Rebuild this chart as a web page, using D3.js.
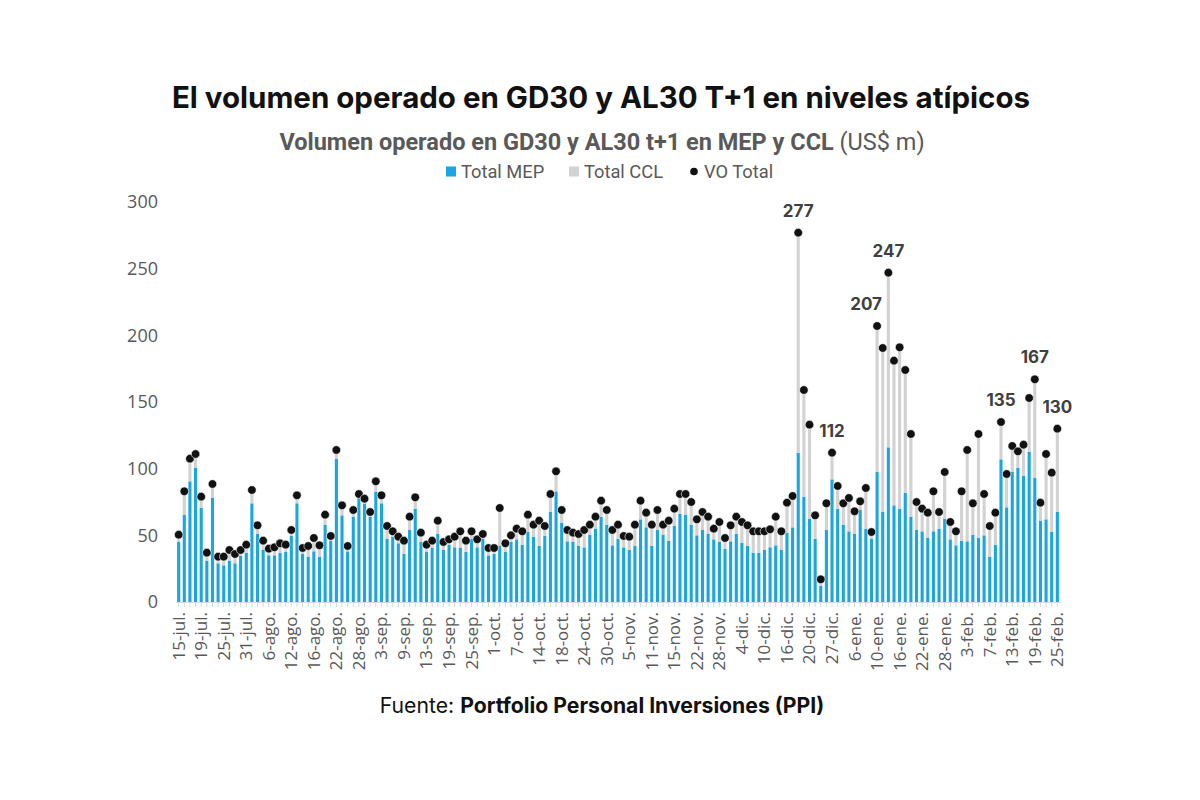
<!DOCTYPE html>
<html>
<head>
<meta charset="utf-8">
<script src="https://cdn.jsdelivr.net/npm/d3@7"></script>
<style>
  body { margin: 0; background: #fff; }
  svg { display: block; }
</style>
</head>
<body>
<svg id="chart" width="1200" height="800"></svg>
<script>
// every 4th business day gets a tick label
const tickLabels = ['15-jul.', '19-jul.', '25-jul.', '31-jul.', '6-ago.', '12-ago.', '16-ago.', '22-ago.', '28-ago.', '3-sep.',
  '9-sep.', '13-sep.', '19-sep.', '25-sep.', '1-oct.', '7-oct.', '14-oct.', '18-oct.', '24-oct.', '30-oct.',
  '5-nov.', '11-nov.', '15-nov.', '22-nov.', '28-nov.', '4-dic.', '10-dic.', '16-dic.', '20-dic.', '27-dic.',
  '6-ene.', '10-ene.', '16-ene.', '22-ene.', '28-ene.', '3-feb.', '7-feb.', '13-feb.', '19-feb.', '25-feb.'];

// Total MEP (US$ m)
const mep = [45, 65.5, 90.5, 100.5, 70.5, 31, 78, 29, 27.5, 31, 29, 34.5, 37, 74, 51, 39, 35, 35, 37, 37.5,
  49.5, 74, 36, 34, 38, 34, 58, 46, 107.5, 65, 38, 64, 78, 74, 64, 82.5, 74, 47.5, 49, 44,
  36, 54, 70, 45, 37.5, 40.5, 51, 39, 43, 41, 40.5, 37.5, 47.5, 41, 47.5, 35, 36, 42, 37.5, 45,
  47, 43, 52.5, 49, 42, 49.5, 67.5, 83, 59.5, 45.5, 45, 42, 41, 50.5, 55, 64, 58, 42.5, 47.5, 41,
  39, 42, 62, 56, 42, 54, 50.5, 46, 57, 66, 65.5, 58, 50, 54, 51, 47, 45, 40, 45.5, 51,
  44.5, 42, 37, 37, 39, 41, 42.5, 39, 52, 56, 112, 79, 62.5, 47.5, 12, 54, 92, 70, 58, 53,
  51, 69, 55, 47.5, 97.5, 67.5, 116, 72.5, 70, 82, 64, 54, 53, 48, 53, 55, 62.5, 47, 42.5, 46,
  45.5, 50.5, 48, 50, 34, 43, 107, 71, 97.5, 100.5, 94.5, 112.5, 93, 61, 62, 52.5, 67.5];

// VO Total (US$ m) = MEP + CCL
const voTotal = [50.5, 83, 107.5, 111, 79, 37, 88.5, 34, 34, 39, 36, 39, 43, 84, 57.5, 46, 40, 41, 44, 43,
  54, 80, 40.5, 42, 48, 42.5, 65.5, 49.5, 114, 72.5, 42, 69, 81, 77.5, 67.5, 90.5, 80, 57, 53, 49,
  46, 64, 78.5, 52, 43, 46, 61, 45, 47, 49, 53, 46, 53, 47, 51, 40.5, 40.5, 70.5, 44, 50,
  55, 53, 65.5, 58, 61, 57, 81, 98, 69, 54, 52, 51, 54, 58, 64, 76, 69, 54, 58, 49.5,
  49, 58, 76, 67, 58, 69, 58, 61, 70, 81, 81, 75, 62, 67.5, 64, 55, 60, 48, 57.5, 64,
  60, 57.5, 53, 53, 53, 54.5, 64, 53, 74.5, 79.5, 277, 159, 133, 65, 17, 74, 112, 87, 74, 78,
  68, 75.5, 85.5, 52.5, 207, 190.5, 247, 181, 191, 174, 126, 75, 70, 67, 83, 67.5, 97.5, 60, 53, 83,
  114, 74, 126, 81, 57, 67, 135, 96, 117, 113, 118, 153, 167, 74.5, 111, 97, 130];

// Total CCL
const ccl = voTotal.map((t, i) => Math.max(0, t - mep[i]));

// points that carry a value label
const labelled = [110, 116, 124, 126, 146, 152, 156];
const yTicks = [0, 50, 100, 150, 200, 250, 300];

const svg = d3.select('#chart');
const margin = {top: 202, right: 140, bottom: 198, left: 176};
const width = 1200 - margin.left - margin.right;
const height = 800 - margin.top - margin.bottom;

const blue = '#1aa6df';
const grey = '#d2d2d2';
const textGrey = '#595959';

/* TITLES */
svg.append('text')
  .attr('x', 601).attr('y', 108)
  .attr('text-anchor', 'middle')
  .style('font-family', 'Inter, "Noto Sans", sans-serif')
  .style('font-weight', 700)
  .style('font-size', '29.5px')
  .style('fill', '#111')
  .text('El volumen operado en GD30 y AL30 T+1 en niveles atípicos');

const sub = svg.append('text')
  .attr('x', 602).attr('y', 150)
  .attr('text-anchor', 'middle')
  .style('font-family', 'Roboto, "Liberation Sans", sans-serif')
  .style('font-size', '23.5px')
  .style('fill', textGrey);
sub.append('tspan').style('font-weight', 700).text('Volumen operado en GD30 y AL30 t+1 en MEP y CCL');
sub.append('tspan').text(' (US$ m)');

/* LEGEND */
const legendItems = [
  {name: 'Total MEP', kind: 'rect', color: blue, x: 451},
  {name: 'Total CCL', kind: 'rect', color: grey, x: 574},
  {name: 'VO Total', kind: 'dot', color: '#111', x: 694}
];
const legend = svg.append('g').attr('transform', 'translate(0,171)');
legendItems.forEach(d => {
  if (d.kind === 'rect') {
    legend.append('rect').attr('x', d.x - 5).attr('y', -4.5).attr('width', 10).attr('height', 10).attr('fill', d.color);
  } else {
    legend.append('circle').attr('cx', d.x).attr('cy', 0.5).attr('r', 3.8).attr('fill', d.color);
  }
  legend.append('text')
    .attr('x', d.x + 10).attr('y', 6.5)
    .style('font-family', 'Roboto, "Liberation Sans", sans-serif')
    .style('font-size', '18.3px')
    .style('fill', textGrey)
    .text(d.name);
});

const g = svg.append('g').attr('transform', `translate(${margin.left},${margin.top})`);

/* SCALES */
const x = d3.scaleBand()
  .domain(d3.range(mep.length))
  .range([0, width])
  .paddingInner(0.45)
  .paddingOuter(0.2);

const y = d3.scaleLinear().domain([0, 300]).range([height, 0]);

/* Y AXIS */
const yAxis = d3.axisLeft(y).tickValues(yTicks).tickSize(0).tickPadding(18);
g.append('g').call(yAxis)
  .call(s => s.select('.domain').remove())
  .selectAll('text')
  .style('font-family', '"Open Sans", "Noto Sans", sans-serif')
  .style('font-size', '18px')
  .style('fill', textGrey);

/* X AXIS */
const xAxis = d3.axisBottom(x)
  .tickValues(d3.range(0, mep.length, 4))
  .tickFormat(i => tickLabels[i / 4])
  .tickSize(0)
  .tickPadding(0);
const xg = g.append('g').attr('transform', `translate(0,${height})`).call(xAxis);
xg.select('.domain').attr('stroke', '#d9d9d9');
xg.selectAll('text')
  .attr('transform', 'rotate(-90)')
  .attr('text-anchor', 'end')
  .attr('x', -10)
  .attr('y', 0)
  .attr('dy', '0.35em')
  .style('font-family', '"Open Sans", "Noto Sans", sans-serif')
  .style('font-size', '17px')
  .style('fill', textGrey);

// small tick marks under every bar
g.append('g').selectAll('line')
  .data(d3.range(mep.length))
  .join('line')
  .attr('x1', i => x(i) + x.bandwidth() / 2)
  .attr('x2', i => x(i) + x.bandwidth() / 2)
  .attr('y1', height).attr('y2', height + 5)
  .attr('stroke', '#d9d9d9');

/* STACKED BARS */
const bars = g.append('g');
bars.selectAll('rect.mep')
  .data(mep)
  .join('rect')
  .attr('class', 'mep')
  .attr('x', (d, i) => x(i))
  .attr('y', d => y(d))
  .attr('width', x.bandwidth())
  .attr('height', d => height - y(d))
  .attr('fill', blue);

bars.selectAll('rect.ccl')
  .data(ccl)
  .join('rect')
  .attr('class', 'ccl')
  .attr('x', (d, i) => x(i))
  .attr('y', (d, i) => y(mep[i] + d))
  .attr('width', x.bandwidth())
  .attr('height', d => height - y(d))
  .attr('fill', grey);

/* VO TOTAL DOTS */
g.append('g').selectAll('circle')
  .data(voTotal)
  .join('circle')
  .attr('cx', (d, i) => x(i) + x.bandwidth() / 2)
  .attr('cy', d => y(d))
  .attr('r', 4.3)
  .attr('fill', '#111')
  .attr('stroke', '#fff')
  .attr('stroke-width', 0.6);

/* VALUE LABELS */
g.append('g').selectAll('text')
  .data(labelled)
  .join('text')
  .attr('x', i => x(i) + x.bandwidth() / 2 + (i === 124 ? -11 : 0))
  .attr('y', i => y(voTotal[i]) - 16)
  .attr('text-anchor', 'middle')
  .style('font-family', 'Inter, "Noto Sans", sans-serif')
  .style('font-weight', 700)
  .style('font-size', '17px')
  .style('fill', '#404040')
  .text(i => d3.format('d')(voTotal[i]));

/* SOURCE */
const src = svg.append('text')
  .attr('x', 602).attr('y', 713)
  .attr('text-anchor', 'middle')
  .style('font-family', 'Inter, "Noto Sans", sans-serif')
  .style('font-size', '21.2px')
  .style('fill', '#111');
src.append('tspan').text('Fuente: ');
src.append('tspan').style('font-weight', 700).text('Portfolio Personal Inversiones (PPI)');
</script>
</body>
</html>
